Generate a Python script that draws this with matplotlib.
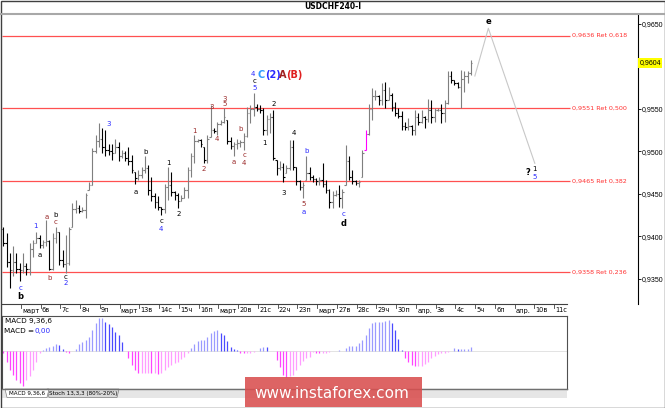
import matplotlib
matplotlib.use('Agg')
import matplotlib.pyplot as plt
from matplotlib.patches import Rectangle, Polygon
from matplotlib.lines import Line2D
from matplotlib.transforms import blended_transform_factory

W, H = 665, 408

# H4 bars, one per 4 hours (6 per trading day)
highs = [.9411, .9404, .9380, .9388, .9380, .9368, .9380, .9368, .9392, .9396,
         .9405, .9402, .9396, .9419, .9396, .9404, .9411, .9405, .9384, .9402,
         .9411, .9439, .9443, .9437, .9435, .9451, .9464, .9504, .9519, .9533,
         .9527, .9525, .9509, .9509, .9515, .9511, .9502, .9500, .9505, .9496,
         .9476, .9478, .9482, .9494, .9484, .9470, .9451, .9447, .9435, .9462,
         .9482, .9476, .9453, .9451, .9449, .9458, .9482, .9498, .9519, .9515,
         .9515, .9505, .9519, .9554, .9527, .9535, .9537, .9551, .9537, .9517,
         .9511, .9515, .9513, .9521, .9552, .9554, .9568, .9556, .9554, .9551,
         .9543, .9545, .9549, .9490, .9488, .9486, .9484, .9513, .9513, .9482,
         .9466, .9464, .9494, .9482, .9472, .9468, .9470, .9486, .9466, .9456,
         .9453, .9454, .9460, .9456, .9507, .9494, .9478, .9466, .9466, .9502,
         .9525, .9556, .9574, .9572, .9566, .9580, .9582, .9576, .9568, .9558,
         .9551, .9547, .9535, .9539, .9531, .9549, .9545, .9549, .9541, .9562,
         .9560, .9551, .9551, .9556, .9560, .9594, .9594, .9584, .9582, .9596,
         .9594, .9594, .9607]
lows = [.9388, .9364, .9339, .9353, .9357, .9347, .9357, .9355, .9355, .9376,
        .9392, .9386, .9386, .9388, .9360, .9360, .9392, .9366, .9364, .9357,
        .9366, .9411, .9427, .9427, .9429, .9421, .9454, .9460, .9498, .9505,
        .9498, .9494, .9496, .9490, .9498, .9488, .9492, .9488, .9484, .9474,
        .9462, .9466, .9468, .9474, .9449, .9441, .9433, .9431, .9425, .9427,
        .9443, .9447, .9443, .9433, .9441, .9445, .9445, .9470, .9486, .9511,
        .9505, .9486, .9486, .9517, .9521, .9519, .9531, .9533, .9509, .9503,
        .9494, .9503, .9505, .9502, .9517, .9533, .9541, .9547, .9545, .9519,
        .9519, .9521, .9490, .9472, .9478, .9464, .9474, .9478, .9478, .9460,
        .9454, .9445, .9466, .9466, .9464, .9460, .9460, .9458, .9451, .9433,
        .9433, .9447, .9435, .9433, .9460, .9466, .9462, .9460, .9458, .9470,
        .9502, .9519, .9537, .9560, .9554, .9554, .9551, .9560, .9547, .9541,
        .9539, .9525, .9525, .9525, .9519, .9519, .9531, .9533, .9527, .9535,
        .9533, .9535, .9547, .9533, .9535, .9556, .9580, .9578, .9574, .9551,
        .9570, .9580, .9590]
closes = [.9392, .9370, .9360, .9370, .9362, .9360, .9365, .9362, .9385, .9392,
          .9398, .9390, .9393, .9395, .9362, .9398, .9405, .9372, .9367, .9368,
          .9408, .9432, .9433, .9430, .9431, .9448, .9460, .9500, .9512, .9515,
          .9505, .9502, .9500, .9498, .9505, .9495, .9498, .9492, .9488, .9478,
          .9468, .9472, .9478, .9480, .9455, .9447, .9440, .9435, .9432, .9458,
          .9460, .9452, .9448, .9442, .9445, .9455, .9478, .9495, .9512, .9513,
          .9508, .9490, .9515, .9525, .9524, .9532, .9535, .9540, .9512, .9506,
          .9508, .9510, .9511, .9518, .9545, .9550, .9552, .9550, .9548, .9525,
          .9538, .9540, .9492, .9480, .9482, .9470, .9480, .9505, .9482, .9465,
          .9458, .9460, .9475, .9470, .9467, .9465, .9466, .9462, .9455, .9440,
          .9448, .9450, .9445, .9452, .9488, .9470, .9465, .9463, .9464, .9498,
          .9520, .9550, .9565, .9565, .9560, .9572, .9560, .9566, .9552, .9545,
          .9542, .9530, .9528, .9530, .9525, .9540, .9535, .9540, .9538, .9548,
          .9540, .9548, .9549, .9545, .9557, .9588, .9584, .9580, .9576, .9585,
          .9588, .9592, .9604]
first_open = .9408
highlight_bar = 110

# MACD 9,36,6 histogram, in pips (1e-4)
macd_pips = [-1.2, -5.3, -9.5, -12.0, -14.5, -16.2, -17.5, -14.5, -12.5, -9.5,
             -5.3, -0.8, 0.5, 1.7, 2.2, 2.5, 3.3, 3.0, 0.8, -0.5,
             -1.2, 0.2, 0.8, 3.3, 4.7, 5.5, 7.2, 10.5, 13.8, 16.3,
             16.3, 14.7, 13.3, 12.2, 9.7, 8.0, 4.7, 0.0, -3.7, -7.0,
             -9.5, -10.8, -10.8, -10.8, -10.8, -11.2, -11.2, -11.5, -10.8, -9.5,
             -7.8, -7.0, -6.2, -5.3, -4.2, -2.8, -1.2, 1.3, 3.5, 5.2,
             5.5, 5.5, 7.2, 8.8, 10.2, 10.5, 9.2, 8.0, 5.2, 2.2,
             0.8, 0.5, -0.8, -1.2, -1.2, -1.2, -0.7, 0.1, 1.3, 2.2,
             1.8, 0.1, -0.1, -4.5, -7.8, -12.0, -13.2, -12.5, -12.0, -9.5,
             -7.0, -5.0, -3.7, -2.8, -0.3, -0.8, -1.2, -1.2, -1.2, -0.3,
             -0.2, 0.1, 0.5, 0.2, 1.7, 2.5, 2.5, 2.5, 3.8, 5.5,
             8.0, 11.3, 14.2, 14.7, 14.7, 14.7, 15.2, 15.5, 14.2, 10.5,
             5.8, 0.3, -3.7, -5.3, -7.0, -7.5, -7.5, -7.5, -6.7, -5.3,
             -3.7, -2.5, -1.7, -1.2, -0.8, -0.3, 0.2, 1.3, 0.8, 0.8,
             0.8, 0.8, 2.2]

day_labels = ['март', '6в', '7с', '8ч', '9п', 'март', '13в', '14с', '15ч', '16п',
              'март', '20в', '21с', '22ч', '23п', 'март', '27в', '28с', '29ч', '30п',
              'апр.', '3в', '4с', '5ч', '6п', 'апр.', '10в', '11с']

ret_levels = [0.9636, 0.9551, 0.9465, 0.9358]
ret_ratios = ['0,618', '0,500', '0,382', '0,236']

# forecast path (bar index, price)
proj_x = [143.2, 147.3, 161.4]
proj_p = [0.95886, 0.96447, 0.94859]

BLUE, BLACK, DRED = '#2a2aff', '#000000', '#9a2a2a'
# wave labels: bar index, price, text, colour, bold
waves = [
    (5.1, .93392, 'c', BLUE, False), (5.1, .93286, 'b', BLACK, True),
    (9.9, .94121, '1', BLUE, False), (11.1, .93776, 'a', BLACK, False),
    (13.1, .94231, 'a', DRED, False), (15.9, .94247, 'b', BLACK, False),
    (15.9, .94168, 'c', DRED, False), (14.2, .93506, 'b', DRED, False),
    (19.0, .93525, 'c', BLACK, False), (19.0, .93447, '2', BLUE, False),
    (31.9, .95321, '3', BLUE, False), (43.1, .94995, 'b', BLACK, False),
    (40.1, .94525, 'a', BLACK, False), (50.1, .94859, '1', BLACK, False),
    (48.0, .94180, 'c', BLACK, False), (48.0, .94089, '4', BLUE, False),
    (53.3, .94262, '2', BLACK, False), (58.1, .95242, '1', DRED, False),
    (61.0, .94788, '2', DRED, False), (63.2, .95521, '3', DRED, False),
    (65.0, .95141, '4', DRED, False), (67.1, .95619, '3', DRED, False),
    (67.1, .95553, '5', DRED, False), (72.1, .95259, 'b', DRED, False),
    (70.1, .94871, 'a', DRED, False), (73.2, .94956, 'c', DRED, False),
    (73.2, .94866, '4', DRED, False), (75.7, .95909, '4', BLUE, False),
    (76.2, .95831, 'c', BLACK, False), (76.2, .95745, '5', BLUE, False),
    (82.2, .95553, '2', BLACK, False), (79.3, .95101, '1', BLACK, False),
    (88.1, .95212, '4', BLACK, False), (92.2, .95004, 'b', BLUE, False),
    (85.0, .94513, '3', BLACK, False), (91.1, .94376, '5', DRED, False),
    (91.1, .94289, 'a', BLUE, False), (103.2, .94262, 'c', BLUE, False),
    (103.2, .94153, 'd', BLACK, True), (147.3, .96525, 'e', BLACK, True),
    (159.3, .94748, '?', BLACK, True), (161.4, .94788, '1', BLACK, False),
    (161.4, .94701, '5', BLUE, False),
]
big_label = [(77.3, 'C', '#2f9bff'), (79.4, '(2)', '#2a2aff'),
             (83.8, 'A', '#a02020'), (85.8, '(B)', '#e02020')]
big_label_p = 0.95892


def fbox(x0, y0, x1, y1):
    # figure-fraction rectangle from pixel edges
    return [x0 / W, 1 - y1 / H, (x1 - x0) / W, (y1 - y0) / H]


def px_to_bar(x):
    return (x - 3.3) / 3.293


fig = plt.figure(figsize=(W / 100, H / 100), dpi=100)
fig.patch.set_facecolor('white')

# header
fig.text(333 / W, 1 - 6.5 / H, 'USDCHF240-I', ha='center', va='center',
         fontsize=5.5, fontweight='bold')
fig.add_artist(Line2D([0, 1], [1 - 13.5 / H] * 2, color='#a8a8a8', lw=1.5))

# ---- price panel
ax = fig.add_axes(fbox(2, 15, 638, 304))
ax.set_xlim(px_to_bar(2), px_to_bar(638))
ax.set_ylim(0.9678 - 304 / 8500, 0.9678 - 15 / 8500)
for s in ['left', 'top', 'bottom']:
    ax.spines[s].set_visible(False)
ax.spines['right'].set_linewidth(0.8)
ax.set_xticks([])
ax.yaxis.tick_right()
ax.set_yticks([0.9350, 0.9400, 0.9450, 0.9500, 0.9550, 0.9650])
ax.set_yticklabels([f'{v:.4f}'.replace('.', ',') for v in ax.get_yticks()],
                   fontfamily='Liberation Sans')
ax.tick_params(axis='y', direction='out', length=2, width=0.6, labelsize=5, pad=0.6)

opens = [first_open] + closes[:-1]
for i in range(len(highs)):
    o = min(max(opens[i], lows[i]), highs[i])
    c = closes[i]
    col = '#7f7f7f' if c >= o else '#000000'
    if i == highlight_bar:
        col = '#ff00ff'
    ax.vlines(i, lows[i], highs[i], color=col, lw=0.8)
    ax.hlines(o, i - 0.45, i, color=col, lw=0.8)
    ax.hlines(c, i, i + 0.45, color=col, lw=0.8)

line_end = px_to_bar(570)
for lvl, r in zip(ret_levels, ret_ratios):
    ax.hlines(lvl, px_to_bar(2), line_end, color='#ff5050', lw=0.9, zorder=1)
    ax.text(px_to_bar(572), lvl, f'{lvl:.4f}'.replace('.', ',') + ' Ret ' + r,
            fontsize=4.6, color='#ff3030', va='center', ha='left')

ax.plot(proj_x, proj_p, color='#c8c8c8', lw=0.8)

for x, p, t, c, b in waves:
    ax.text(x, p, t, color=c, fontsize=6 if b else 5,
            fontweight='bold' if b else 'normal', ha='center', va='center')
for x, t, c in big_label:
    ax.text(x, big_label_p, t, color=c, fontsize=7, fontweight='bold',
            ha='left', va='center')

tr_r = blended_transform_factory(ax.transAxes, ax.transData)
ax.text(1.0025, closes[-1], f'{closes[-1]:.4f}'.replace('.', ','), transform=tr_r,
        fontsize=5, fontfamily='Liberation Sans', ha='left', va='center',
        clip_on=False, bbox=dict(boxstyle='square,pad=0.2', fc='#ffff00', ec='none'))

# time axis
tr_t = blended_transform_factory(ax.transData, fig.transFigure)
day_pos = [5.3 + 6 * k for k in range(len(day_labels))]
ax.add_line(Line2D([px_to_bar(2), px_to_bar(567)], [1 - 304 / H] * 2,
                   transform=tr_t, color='#404040', lw=0.8, clip_on=False))
for xpos, lab in zip(day_pos, day_labels):
    ax.add_line(Line2D([xpos, xpos], [1 - 304 / H, 1 - 307.5 / H], transform=tr_t,
                       color='#404040', lw=0.6, clip_on=False))
    ax.text(xpos + 0.4, 1 - 310.5 / H, lab, transform=tr_t, fontsize=4.8,
            ha='left', va='center', clip_on=False)

# ---- MACD panel
mx = fig.add_axes(fbox(2, 316, 567, 389))
mx.set_xlim(px_to_bar(2), px_to_bar(567))
mx.set_ylim(-19, 17.5)
mx.set_xticks([])
mx.set_yticks([])
for s in mx.spines.values():
    s.set_color('#505050')
    s.set_linewidth(0.8)
mx.axhline(0, color='#d8d8d8', lw=0.5)
prev = 0
for i, v in enumerate(macd_pips):
    if v >= 0:
        col = '#9a9aff' if v >= prev else '#4a4aff'
    else:
        col = '#ff44ff' if v < prev else '#ff9cff'
    mx.vlines(i, 0, v, color=col, lw=0.9)
    prev = v
mx.text(0.006, 0.93, 'MACD 9,36,6', transform=mx.transAxes, fontsize=5.2,
        ha='left', va='center')
mx.text(0.004, 0.8, 'MACD =', transform=mx.transAxes, fontsize=5.2,
        ha='left', va='center')
mx.text(0.057, 0.8, '0,00', transform=mx.transAxes, fontsize=5.2,
        ha='left', va='center', color='#2a2aff')

# tab strip
fig.add_artist(Rectangle((2 / W, 1 - 398 / H), 565 / W, 9 / H,
                         transform=fig.transFigure, fc='#e6e6e6', ec='none'))
fig.add_artist(Line2D([2 / W, 567 / W], [1 - 389 / H] * 2, color='#707070', lw=1.0))
tab1 = [(5, 389), (7, 397.5), (47, 397.5), (49, 389)]
tab2 = [(47, 389), (49, 397.5), (117, 397.5), (119, 389)]
fig.add_artist(Polygon([(x / W, 1 - y / H) for x, y in tab2], closed=True,
                       transform=fig.transFigure, fc='#dadada', ec='#808080', lw=0.5))
fig.add_artist(Polygon([(x / W, 1 - y / H) for x, y in tab1], closed=True,
                       transform=fig.transFigure, fc='white', ec='#808080', lw=0.5))
fig.text(27 / W, 1 - 393.5 / H, 'MACD 9,36,6', fontsize=4.1, ha='center', va='center')
fig.text(83 / W, 1 - 393.5 / H, 'Stoch 13,3,3 (80%-20%)', fontsize=4.1,
         ha='center', va='center')

# watermark
fig.add_artist(Rectangle((245 / W, 1 - 407 / H), 177 / W, 30 / H,
                         transform=fig.transFigure, fc='#d94f4f', ec='none',
                         alpha=0.88, zorder=10))
fig.text(332 / W, 1 - 393 / H, 'www.instaforex.com', fontsize=11, color='white',
         ha='center', va='center', zorder=11)

# window frame
fig.add_artist(Rectangle((0.5 / W, 0.5 / H), (W - 1) / W, (H - 1) / H,
                         transform=fig.transFigure, fc='none', ec='#404040', lw=1.0))

fig.savefig('out.png', dpi=100)
